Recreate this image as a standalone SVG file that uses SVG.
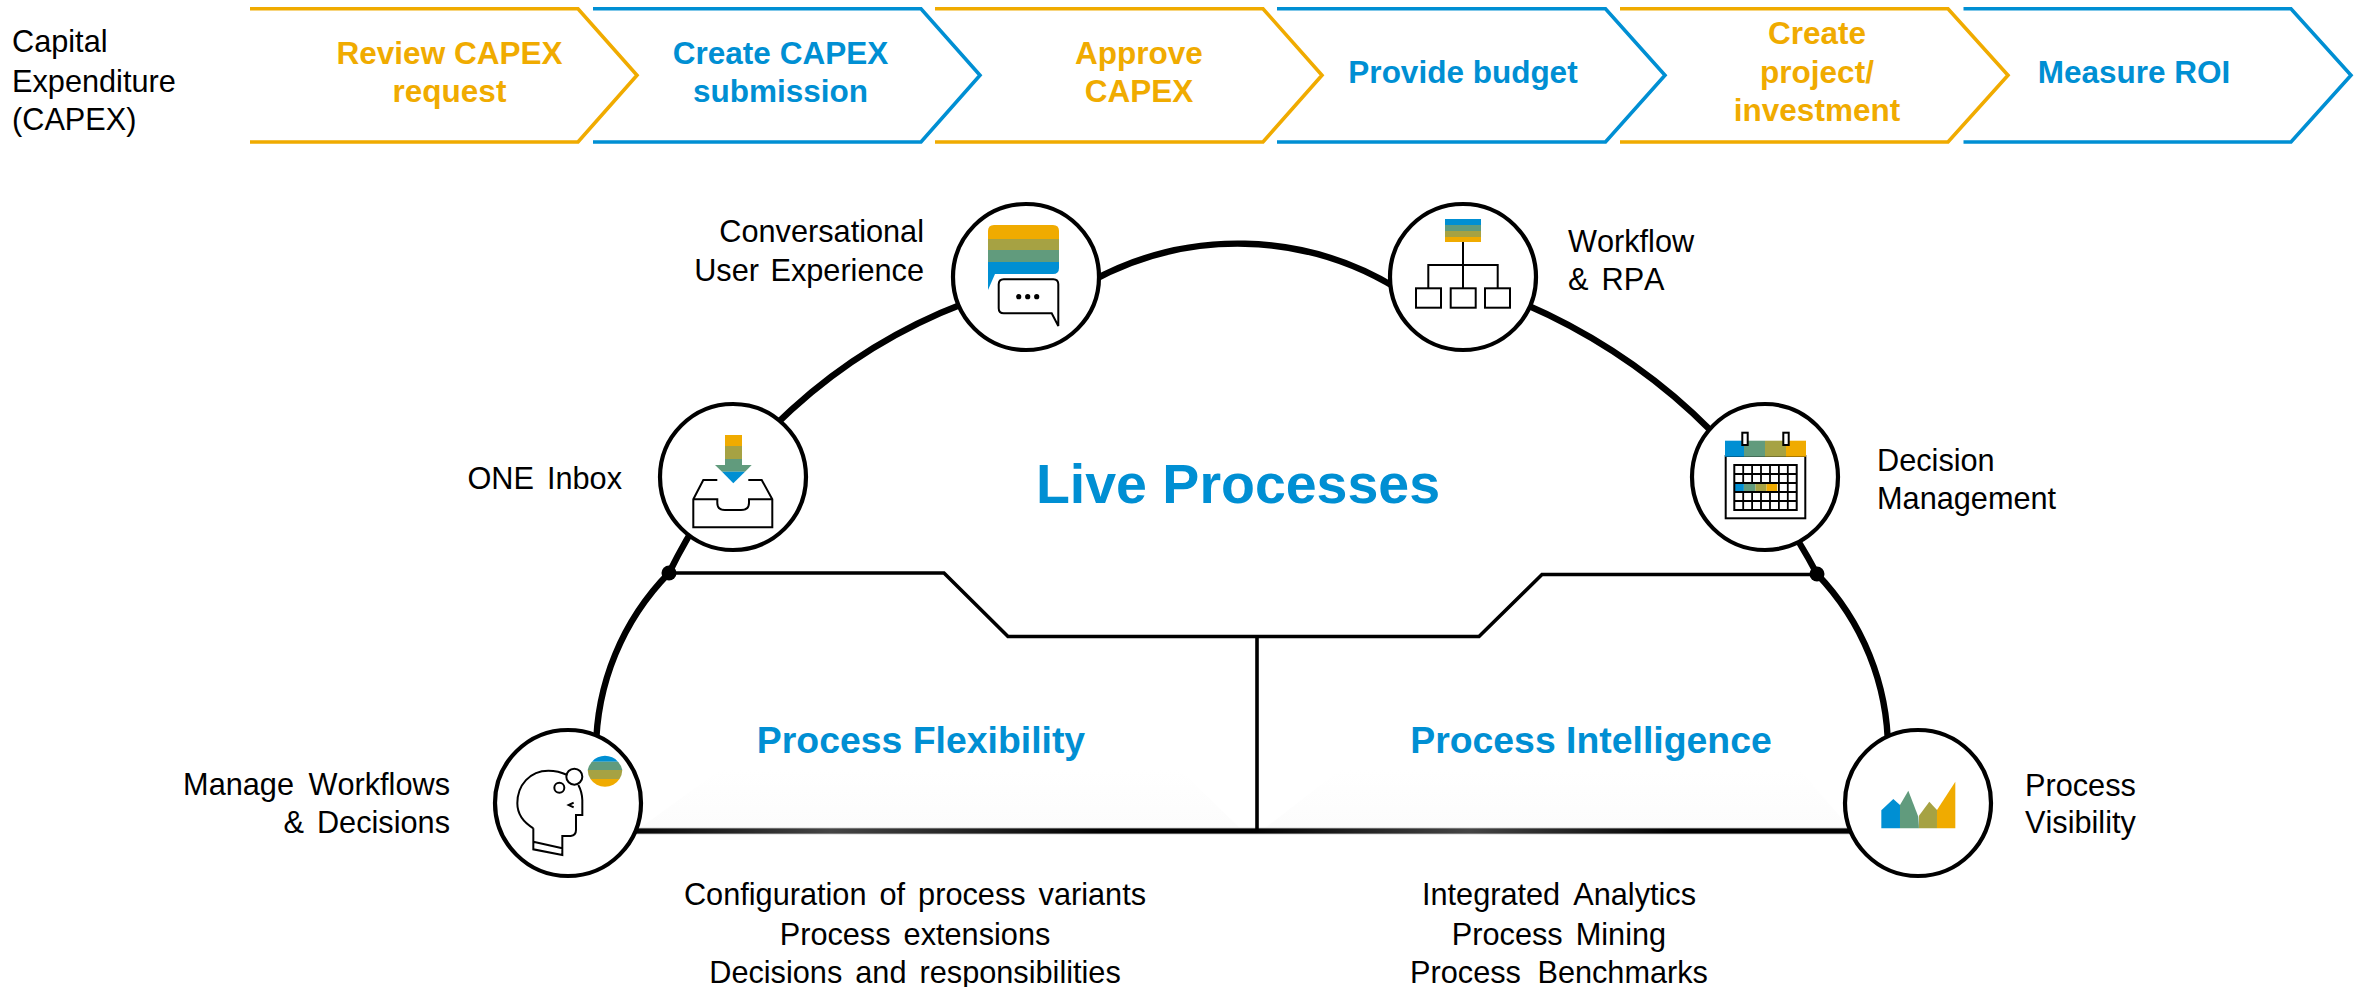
<svg xmlns="http://www.w3.org/2000/svg" width="2362" height="987" viewBox="0 0 2362 987">
<style>
text{font-family:"Liberation Sans",Arial,sans-serif}
.l{font-size:30.7px;fill:#000;font-kerning:none;word-spacing:4.5px}
.s{font-size:31.5px;font-weight:700}
.h{font-size:37.4px;font-weight:700;fill:#008fd3}
.e{text-anchor:end}.m{text-anchor:middle}
.y{fill:#f0ab00}.o{fill:#a6a243}.g{fill:#619b7d}.b{fill:#008fd3}
.cy{fill:none;stroke:#f0ab00;stroke-width:3.6}
.cb{fill:none;stroke:#008fd3;stroke-width:3.6}
.ring{fill:#fff;stroke:#000;stroke-width:4.2}
.ic{fill:none;stroke:#000;stroke-width:2}
.ic3{fill:#fff;stroke:#000;stroke-width:2}
.thick{fill:none;stroke:#000;stroke-width:6.4}
.thin{fill:none;stroke:#000;stroke-width:3.6}
</style>
<defs>
<linearGradient id="base" gradientUnits="userSpaceOnUse" x1="620" x2="1860" y1="0" y2="0">
<stop offset="0" stop-color="#000"/><stop offset=".17" stop-color="#444"/><stop offset=".39" stop-color="#000"/><stop offset=".51" stop-color="#000"/><stop offset=".685" stop-color="#444"/><stop offset=".85" stop-color="#000"/>
</linearGradient>
<linearGradient id="ghost" x1="0" x2="0" y1="0" y2="1">
<stop offset="0" stop-color="#fff"/><stop offset="1" stop-color="#fcfcfc"/>
</linearGradient>
</defs>
<text class="l" x="12" y="52">Capital</text>
<text class="l" x="12" y="91.5">Expenditure</text>
<text class="l" x="12" y="129.5">(CAPEX)</text>

<g id="step-review"><polyline class="cy" points="250,8.7 578,8.7 637,75.3 578,142 250,142"/>
<text class="s y m" x="449.5" y="64">Review CAPEX</text><text class="s y m" x="449.5" y="102">request</text></g>
<g id="step-submission"><polyline class="cb" points="593,8.7 921,8.7 980,75.3 921,142 593,142"/>
<text class="s b m" x="780.5" y="64">Create CAPEX</text><text class="s b m" x="780.5" y="102">submission</text></g>
<g id="step-approve"><polyline class="cy" points="935,8.7 1263,8.7 1322,75.3 1263,142 935,142"/>
<text class="s y m" x="1139" y="64">Approve</text><text class="s y m" x="1139" y="102">CAPEX</text></g>
<g id="step-budget"><polyline class="cb" points="1277,8.7 1605.5,8.7 1665,75.3 1605.5,142 1277,142"/>
<text class="s b m" x="1463" y="82.7">Provide budget</text></g>
<g id="step-project"><polyline class="cy" points="1620,8.7 1948,8.7 2008,75.3 1948,142 1620,142"/>
<text class="s y m" x="1817" y="44">Create</text><text class="s y m" x="1817" y="83">project/</text><text class="s y m" x="1817" y="120.7">investment</text></g>
<g id="step-roi"><polyline class="cb" points="1963.5,8.7 2291,8.7 2351,75.3 2291,142 1963.5,142"/>
<text class="s b m" x="2134" y="82.7">Measure ROI</text></g>

<polygon fill="url(#ghost)" points="720,770 1180,770 1240,828 640,828"/>
<polygon fill="url(#ghost)" points="1340,770 1800,770 1850,828 1265,828"/>

<g id="connectors">
<path class="thick" d="M669,573 A545,545 0 0 1 965,303"/>
<path class="thick" d="M1090,282 A305,305 0 0 1 1398,289"/>
<path class="thick" d="M1522,303 A600,600 0 0 1 1817,574"/>
<path class="thick" d="M669,573 A255,255 0 0 0 596,750"/>
<path class="thick" d="M1817,574 A255,255 0 0 1 1888,750"/>
<path d="M620,831 H1860" fill="none" stroke="#aaa" stroke-width="6.6"/>
<path d="M620,831 H1860" fill="none" stroke="url(#base)" stroke-width="4.8"/>
<path class="thin" d="M669,573 H944 L1008,636.5 H1479 L1542,574.5 H1817"/>
<path class="thin" d="M1257,636.5 V831"/>
<circle cx="669" cy="573" r="7.5"/>
<circle cx="1817" cy="574" r="7.5"/>
</g>

<text x="1238" y="503" class="m" style="font-size:55.5px;font-weight:700;fill:#008fd3">Live Processes</text>
<text x="921" y="753" class="h m">Process Flexibility</text>
<text x="1591" y="753" class="h m">Process Intelligence</text>

<g id="list-flexibility">
<text class="l m" x="915" y="905">Configuration of process variants</text>
<text class="l m" x="915" y="945">Process extensions</text>
<text class="l m" x="915" y="983">Decisions and responsibilities</text>
</g>
<g id="list-intelligence">
<text class="l m" x="1559" y="905">Integrated Analytics</text>
<text class="l m" x="1559" y="945">Process Mining</text>
<text class="l m" x="1559" y="983" style="word-spacing:8px">Process Benchmarks</text>
</g>

<g id="one-inbox">
<circle class="ring" cx="733" cy="477" r="73"/>
<rect class="y" x="725" y="435" width="17" height="11"/>
<rect class="o" x="725" y="446" width="17" height="13"/>
<rect class="g" x="725" y="459" width="17" height="7"/>
<path class="g" d="M715,465 H751.7 L745,471.7 H722 Z"/>
<path class="b" d="M722,471.7 H745 L733.3,483.3 Z"/>
<path class="ic" d="M717.3,480 H703.3 L693.3,499.3 V527.3 H772.3 V499.3 L761.7,480 H748.3 M693.3,499.3 H717.3 V503 Q717.3,510 725,510 H741 Q749,510 749,503 V499.3 H772.3"/>
<text class="l e" x="622" y="489">ONE Inbox</text>
</g>

<g id="conversational-ux">
<circle class="ring" cx="1026" cy="277" r="73"/>
<path class="y" d="M988,239 V231 Q988,225 994,225 H1053 Q1059,225 1059,231 V239 Z"/>
<rect class="o" x="988" y="239" width="71" height="11"/>
<rect class="g" x="988" y="250" width="71" height="12"/>
<path class="b" d="M988,262 H1059 V268 Q1059,274 1053,274 H995 L988,290 Z"/>
<path class="ic" d="M1003.7,279.3 H1053.3 Q1058.3,279.3 1058.3,284.3 V326 L1051.7,313.3 H1003.7 Q998.7,313.3 998.7,308.3 V284.3 Q998.7,279.3 1003.7,279.3 Z"/>
<circle cx="1018.7" cy="296.7" r="2.6"/><circle cx="1027.7" cy="296.7" r="2.6"/><circle cx="1036.7" cy="296.7" r="2.6"/>
<text class="l e" x="924" y="242">Conversational</text>
<text class="l e" x="924" y="281" style="word-spacing:3px">User Experience</text>
</g>

<g id="workflow-rpa">
<circle class="ring" cx="1463" cy="277" r="73"/>
<rect class="b" x="1445" y="219" width="36" height="6"/>
<rect class="g" x="1445" y="225" width="36" height="6"/>
<rect class="o" x="1445" y="231" width="36" height="6"/>
<rect class="y" x="1445" y="237" width="36" height="5"/>
<path class="ic" d="M1463,242 V288 M1428.3,288 V265 H1497.7 V288"/>
<rect class="ic" x="1416" y="288.3" width="25" height="19.4"/>
<rect class="ic" x="1450.7" y="288.3" width="25" height="19.4"/>
<rect class="ic" x="1485" y="288.3" width="25" height="19.4"/>
<text class="l" x="1568" y="252">Workflow</text>
<text class="l" x="1568" y="290">&amp; RPA</text>
</g>

<g id="decision-management">
<circle class="ring" cx="1765" cy="477" r="73"/>
<rect class="ic" x="1725.7" y="456" width="79.6" height="62.3"/>
<rect class="b" x="1725" y="440.7" width="19" height="16"/>
<rect class="g" x="1744" y="440.7" width="21" height="16"/>
<rect class="o" x="1765" y="440.7" width="21" height="16"/>
<rect class="y" x="1786" y="440.7" width="20" height="16"/>
<rect class="ic3" x="1742.3" y="432.7" width="5.4" height="12.3"/>
<rect class="ic3" x="1783.3" y="432.7" width="5.4" height="12.3"/>
<rect class="b" x="1734.3" y="483" width="9.6" height="9"/>
<rect class="g" x="1743.9" y="483" width="11.6" height="9"/>
<rect class="o" x="1755.5" y="483" width="11" height="9"/>
<rect class="y" x="1766.5" y="483" width="10.8" height="9"/>
<path class="ic" d="M1734.3,465 H1796.7 V510 H1734.3 Z M1734.3,474 H1796.7 M1734.3,483 H1796.7 M1734.3,492 H1796.7 M1734.3,501 H1796.7"/>
<path fill="none" stroke="#000" stroke-width="1.8" d="M1743.2,465 V483 M1743.2,492 V510 M1752.1,465 V483 M1752.1,492 V510 M1761,465 V483 M1761,492 V510 M1770,465 V483 M1770,492 V510 M1778.9,465 V510 M1787.8,465 V510"/>
<text class="l" x="1877" y="471">Decision</text>
<text class="l" x="1877" y="508.5">Management</text>
</g>

<g id="manage-workflows">
<circle class="ring" cx="568" cy="803" r="73"/>
<path class="b" d="M592,761.7 A17.3,17.3 0 0 1 618,761.7 Z"/>
<path class="g" d="M592,761.7 H618 A17.3,17.3 0 0 1 622.3,770 H587.7 A17.3,17.3 0 0 1 592,761.7 Z"/>
<path class="o" d="M587.7,770 H622.3 A17.3,17.3 0 0 1 619.5,779 H590.5 A17.3,17.3 0 0 1 587.7,770 Z"/>
<path class="y" d="M590.5,779 H619.5 A17.3,17.3 0 0 1 590.5,779 Z"/>
<g transform="translate(480 700) scale(.3333)">
<path fill="none" stroke="#000" stroke-width="6" d="M160,385 V448 L247,465 V408 H272 Q288,406 288,390 V345 H307 V300 Q306,275 295,255 M262,225 Q235,212 205,212 C150,212 112,255 112,310 C112,342 132,368 160,385 M160,425 L247,445 M281,308 L266,315 L281,322"/>
<circle cx="283" cy="230" r="24" fill="none" stroke="#000" stroke-width="6"/>
<circle cx="238" cy="263" r="15" fill="none" stroke="#000" stroke-width="6"/>
</g>
<text class="l e" x="450" y="795" style="word-spacing:6px">Manage Workflows</text>
<text class="l e" x="450" y="833">&amp; Decisions</text>
</g>

<g id="process-visibility">
<circle class="ring" cx="1918" cy="803" r="73"/>
<g transform="translate(1820 700) scale(.3333)">
<path class="b" d="M184,385 V331 L220,297 L240,315 V385 Z"/>
<path class="g" d="M240,385 V315 L265,272 L295,350 L297,385 Z"/>
<path class="o" d="M297,385 V347 L328,305 L351,330 V385 Z"/>
<path class="y" d="M351,385 V330 L406,245 V385 Z"/>
</g>
<text class="l" x="2025" y="796">Process</text>
<text class="l" x="2025" y="833">Visibility</text>
</g>
</svg>
